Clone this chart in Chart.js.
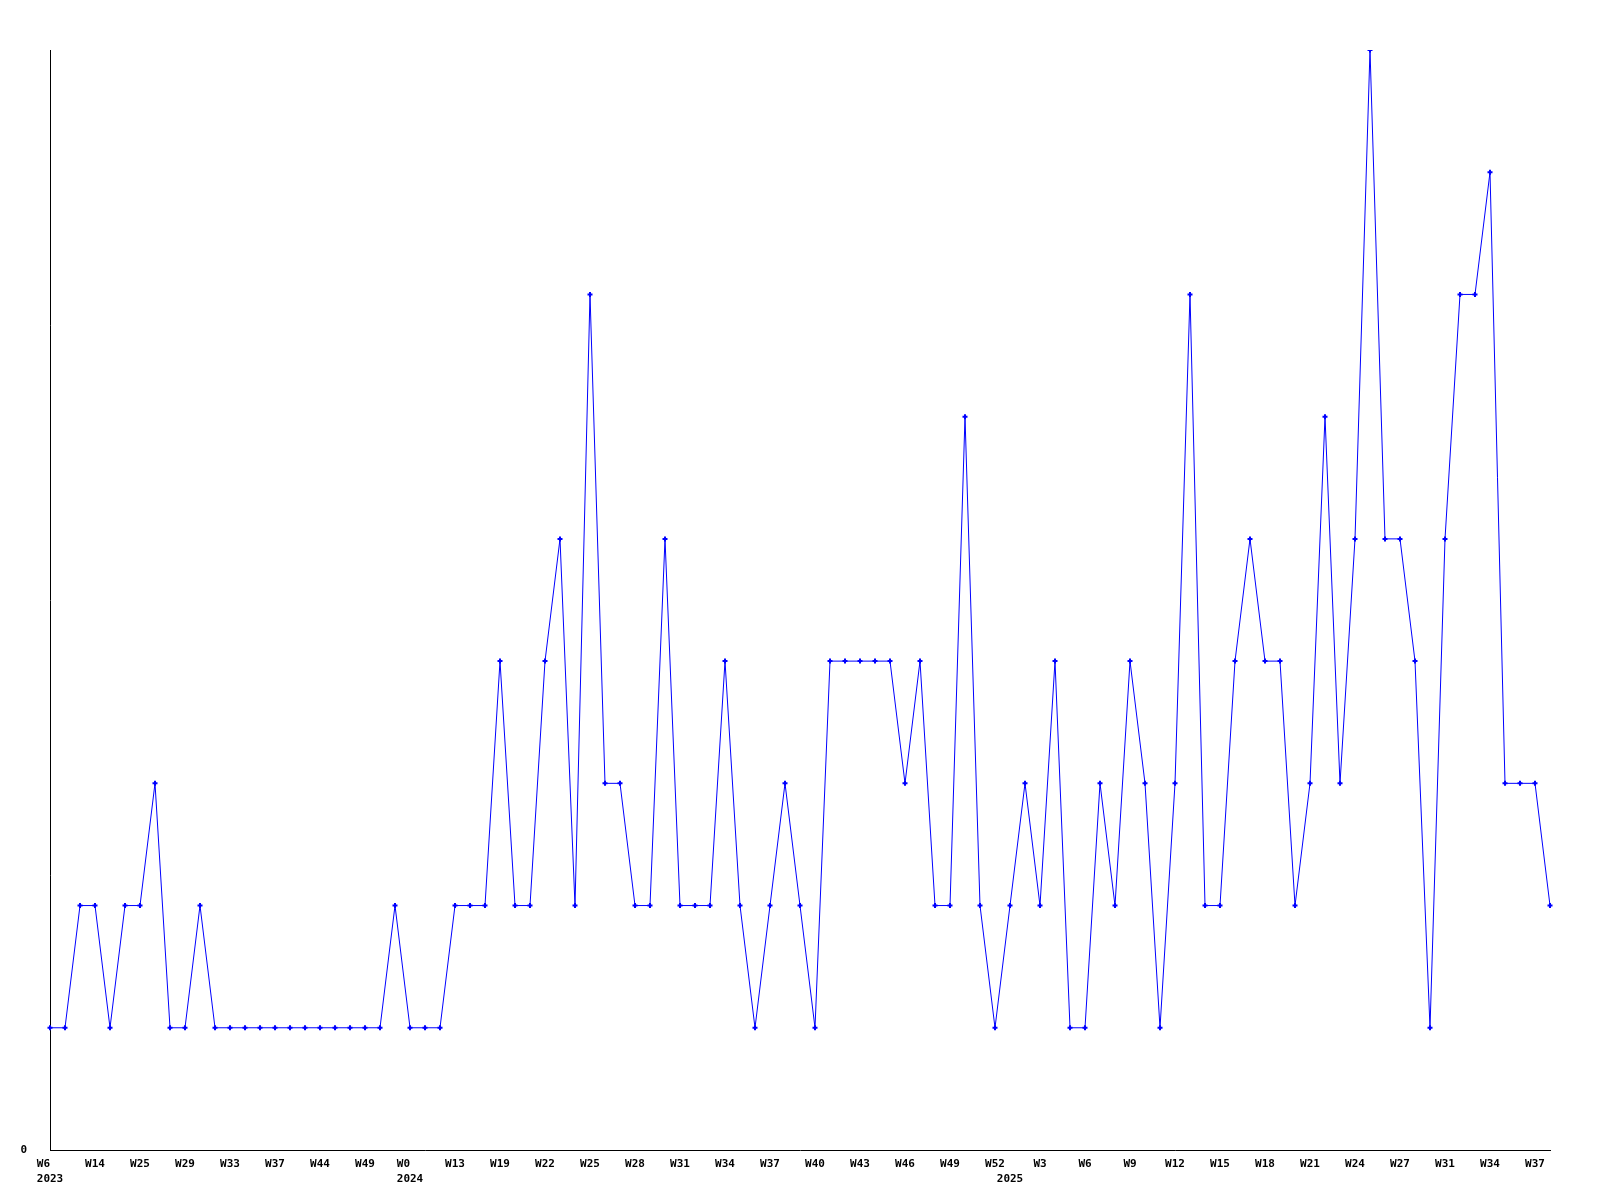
<!DOCTYPE html>
<html>
<head>
<meta charset="utf-8">
<script src="https://cdn.jsdelivr.net/npm/chart.js@4.4.1/dist/chart.umd.min.js"></script>
<style>
    html, body { margin: 0; padding: 0; background: #fff; }
    #chartBox { width: 1600px; height: 1200px; }
</style>
</head>
<body>
<div id="chartBox"><canvas id="weeklyChart" width="1600" height="1200"></canvas></div>
<script>
// one entry per point, left to right
const weeks = [
    "W6", "W10", "W12", "W14", "W18", "W22", "W25", "W26", "W28", "W29", "W30", "W32",
    "W33", "W34", "W35", "W37", "W39", "W41", "W44", "W45", "W47", "W49", "W50", "W52",
    "W0", "W4", "W9", "W13", "W15", "W17", "W19", "W20", "W21", "W22", "W23", "W24",
    "W25", "W26", "W27", "W28", "W29", "W30", "W31", "W32", "W33", "W34", "W35", "W36",
    "W37", "W38", "W39", "W40", "W41", "W42", "W43", "W44", "W45", "W46", "W47", "W48",
    "W49", "W50", "W51", "W52",
    "W1", "W2", "W3", "W4", "W5", "W6", "W7", "W8", "W9", "W10", "W11", "W12",
    "W13", "W14", "W15", "W16", "W17", "W18", "W19", "W20", "W21", "W22", "W23", "W24",
    "W25", "W26", "W27", "W28", "W30", "W31", "W32", "W33", "W34", "W35", "W36", "W37",
    "W38"
]

const years = [
    "2023", "2023", "2023", "2023", "2023", "2023", "2023", "2023", "2023", "2023", "2023", "2023",
    "2023", "2023", "2023", "2023", "2023", "2023", "2023", "2023", "2023", "2023", "2023", "2023",
    "2024", "2024", "2024", "2024", "2024", "2024", "2024", "2024", "2024", "2024", "2024", "2024",
    "2024", "2024", "2024", "2024", "2024", "2024", "2024", "2024", "2024", "2024", "2024", "2024",
    "2024", "2024", "2024", "2024", "2024", "2024", "2024", "2024", "2024", "2024", "2024", "2024",
    "2024", "2024", "2024", "2024",
    "2025", "2025", "2025", "2025", "2025", "2025", "2025", "2025", "2025", "2025", "2025", "2025",
    "2025", "2025", "2025", "2025", "2025", "2025", "2025", "2025", "2025", "2025", "2025", "2025",
    "2025", "2025", "2025", "2025", "2025", "2025", "2025", "2025", "2025", "2025", "2025", "2025",
    "2025"
]

const counts = [
    1, 1, 2, 2, 1, 2, 2, 3, 1, 1, 2, 1,
    1, 1, 1, 1, 1, 1, 1, 1, 1, 1, 1, 2,
    1, 1, 1, 2, 2, 2, 4, 2, 2, 4, 5, 2,
    7, 3, 3, 2, 2, 5, 2, 2, 2, 4, 2, 1,
    2, 3, 2, 1, 4, 4, 4, 4, 4, 3, 4, 2,
    2, 6, 2, 1,
    2, 3, 2, 4, 1, 1, 3, 2, 4, 3, 1, 3,
    7, 2, 2, 4, 5, 4, 4, 2, 3, 6, 3, 5,
    9, 5, 5, 4, 1, 5, 7, 7, 8, 3, 3, 3,
    2
]

const yTickLabels = ["0"]

const labelFont = { family: "'DejaVu Sans Mono', monospace", size: 11, weight: "bold", lineHeight: 1.36 }

const ctx = document.getElementById("weeklyChart").getContext("2d")

new Chart(ctx, {
    type: "line",
    data: {
        labels: weeks,
        datasets: [{
            data: counts,
            borderColor: "#0000ff",
            backgroundColor: "#0000ff",
            borderWidth: 1,
            tension: 0,
            fill: false,
            pointStyle: "cross",
            pointRadius: 2.5,
            pointBorderWidth: 2,
            pointBorderColor: "#0000ff",
            pointHoverRadius: 2.5
        }]
    },
    options: {
        responsive: false,
        animation: false,
        devicePixelRatio: 1,
        layout: { padding: { top: 50, right: 50, left: 0, bottom: 0 } },
        plugins: {
            legend: { display: false },
            tooltip: { enabled: false },
            title: { display: false }
        },
        scales: {
            x: {
                offset: false,
                grid: { display: false, drawTicks: false, tickLength: 0 },
                border: { display: true, color: "#000", width: 1 },
                afterFit: (scale) => { scale.height = 50 },
                ticks: {
                    autoSkip: false,
                    maxRotation: 0,
                    minRotation: 0,
                    padding: 7,
                    color: "#000",
                    font: labelFont,
                    callback: (value, index) => {
                        const wk = index % 3 === 0 ? weeks[index] : ""
                        const newYear = index === 0 || years[index] !== years[index - 1]
                        if (!newYear) return wk
                        // week and year lines sit left-aligned as one block
                        return [wk.padEnd(years[index].length, " "), years[index]]
                    }
                }
            },
            y: {
                min: 0,
                max: 9,
                grid: { display: false, drawTicks: false, tickLength: 0 },
                border: { display: true, color: "#000", width: 1 },
                afterFit: (scale) => { scale.width = 50 },
                ticks: {
                    stepSize: 1,
                    padding: 23,
                    color: "#000",
                    font: labelFont,
                    callback: (value) => { return value === 0 ? yTickLabels[0] : "" }
                }
            }
        }
    }
})
</script>
</body>
</html>
